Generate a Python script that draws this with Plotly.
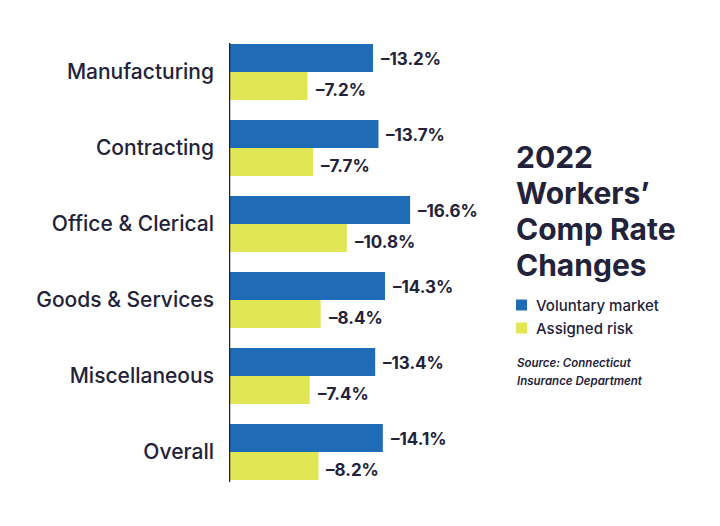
import plotly.graph_objects as go

categories = ["Manufacturing", "Contracting", "Office & Clerical", "Goods & Services", "Miscellaneous", "Overall"]
voluntary = [-13.2, -13.7, -16.6, -14.3, -13.4, -14.1]
assigned = [-7.2, -7.7, -10.8, -8.4, -7.4, -8.2]
series_names = ["Voluntary market", "Assigned risk"]
title_lines = ["2022", "Workers’", "Comp Rate", "Changes"]
source_lines = ["Source: Connecticut", "Insurance Department"]

BLUE = "#1f6bb5"
YELLOW = "#e1e655"
NAVY = "#22223a"
FONT = "Inter"

L, R, T, B = 229, 500, 34, 490
W, H = R - L, B - T
def px(x):
    return (x - L) / W
def py(y):
    return (B - y) / H

fig = go.Figure()
for name, vals, col in [(series_names[0], voluntary, BLUE), (series_names[1], assigned, YELLOW)]:
    fig.add_trace(go.Bar(
        y=categories, x=[abs(v) for v in vals], orientation="h", name=name,
        marker=dict(color=col, line=dict(width=0)), showlegend=False,
    ))

# value labels
for i, cat in enumerate(categories):
    for vals, off in [(voluntary, -0.2), (assigned, 0.2)]:
        v = vals[i]
        fig.add_annotation(
            x=abs(v), y=cat, yshift=-off * 76 - 2.5, xref="x", yref="y",
            text=f"–{abs(v):.1f}%", showarrow=False, xanchor="left", yanchor="middle",
            xshift=6, font=dict(family=FONT, size=17, color=NAVY, weight=700),
        )

# axis line
fig.add_shape(type="line", xref="x", yref="paper", x0=0, x1=0, y0=py(482), y1=py(43),
              line=dict(color="#222222", width=2.5))

# title
for k, line in enumerate(title_lines):
    fig.add_annotation(x=px(514), y=py(157 + 36 * k), xref="paper", yref="paper", text=line,
                       showarrow=False, xanchor="left", yanchor="middle",
                       font=dict(family=FONT, size=30, color=NAVY, weight=700))

# legend
for k, (name, col) in enumerate(zip(series_names, [BLUE, YELLOW])):
    yc = 305 + 23 * k
    fig.add_shape(type="rect", xref="paper", yref="paper",
                  x0=px(516), x1=px(527), y0=py(yc + 5.5), y1=py(yc - 5.5),
                  fillcolor=col, line=dict(width=0))
    fig.add_annotation(text=name, showarrow=False, xanchor="left", yanchor="middle",
                       xref="paper", yref="paper", x=px(534), y=py(yc),
                       font=dict(family=FONT, size=15, color=NAVY, weight=500))

for k, line in enumerate(source_lines):
    fig.add_annotation(x=px(515), y=py(363 + 18 * k), xref="paper", yref="paper", text=f"<i>{line}</i>",
                       showarrow=False, xanchor="left", yanchor="middle",
                       font=dict(family=FONT, size=11.5, color=NAVY, weight=600))

fig.update_layout(
    width=720, height=526, plot_bgcolor="white", paper_bgcolor="white",
    margin=dict(l=L, r=720 - R, t=T, b=526 - B, autoexpand=False),
    barmode="group", bargap=0.263, bargroupgap=0,
    xaxis=dict(range=[0, W / 10.91], visible=False, fixedrange=True),
    yaxis=dict(autorange="reversed", showline=False, showgrid=False, zeroline=False,
               ticks="", ticklabelstandoff=14, fixedrange=True,
               tickfont=dict(family=FONT, size=21, color=NAVY, weight=500)),
    font=dict(family=FONT, color=NAVY),
)

fig.write_html("out.html", config={"displayModeBar": False},
               post_script="document.body.style.margin='0';")
